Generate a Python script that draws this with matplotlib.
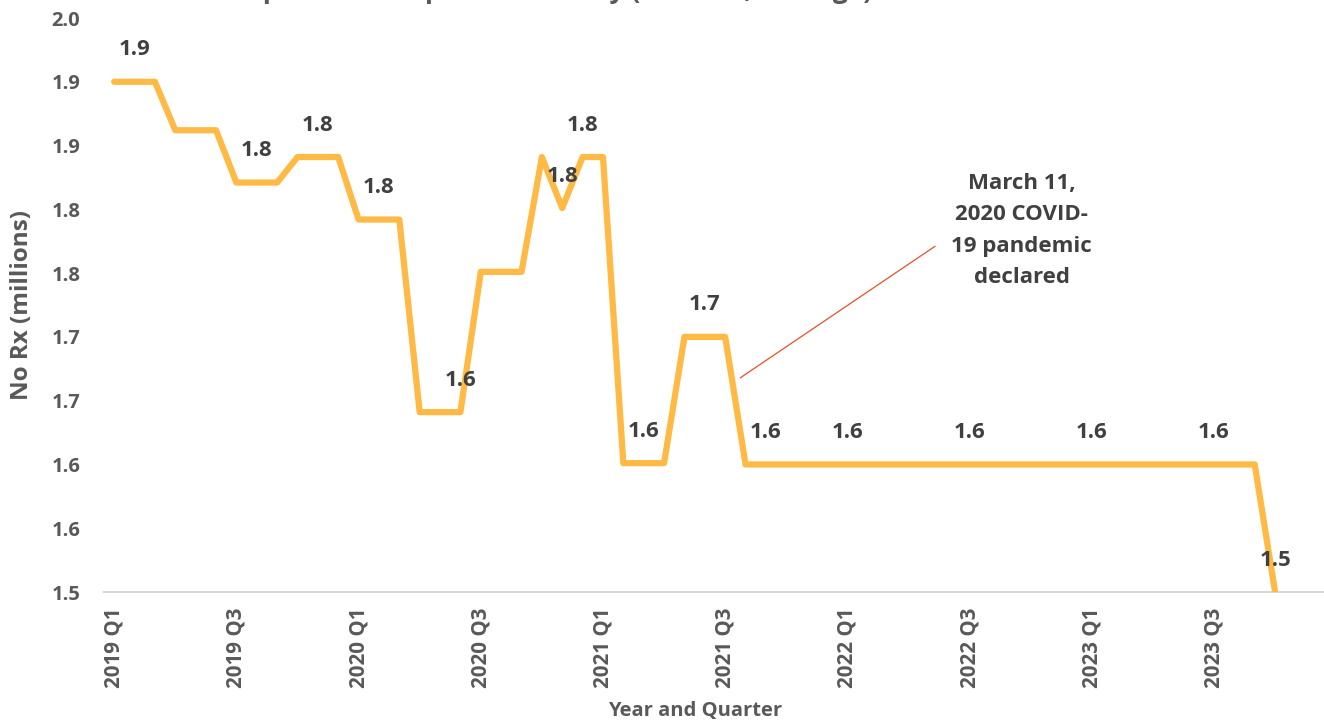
import matplotlib
matplotlib.use("Agg")
import matplotlib.pyplot as plt

# ---------------- data ----------------
n_months = 60  # 2019-01 .. 2023-12 (category slots on the axis)
values = [1.90, 1.90, 1.90,
          1.862, 1.862, 1.862,
          1.821, 1.821, 1.821,
          1.841, 1.841, 1.841,
          1.792, 1.792, 1.792,
          1.641, 1.641, 1.641,
          1.751, 1.751, 1.751,
          1.841, 1.801, 1.841, 1.841,
          1.601, 1.601, 1.601,
          1.700, 1.700, 1.700] + [1.600] * 26 + [1.500]
label_idx = [1, 7, 10, 13, 17, 22, 23, 26, 29, 32, 36, 42, 48, 54, 57]
x_tick_idx = [0, 6, 12, 18, 24, 30, 36, 42, 48, 54]
x_tick_labels = ["2019 Q1", "2019 Q3", "2020 Q1", "2020 Q3", "2021 Q1",
                 "2021 Q3", "2022 Q1", "2022 Q3", "2023 Q1", "2023 Q3"]
y_ticks = [1.50, 1.55, 1.60, 1.65, 1.70, 1.75, 1.80, 1.85, 1.90, 1.95]
y_tick_labels = ["1.5", "1.6", "1.6", "1.7", "1.7", "1.8", "1.8", "1.9", "1.9", "2.0"]
title = "Opioid Prescriptions Monthly (millions, average)"
annot_text = "March 11,\n2020 COVID-\n19 pandemic\ndeclared"
annot_line_x = [30.75, 40.3]
annot_line_y = [1.668, 1.771]

# ---------------- style ----------------
W, H = 1324, 721
DPI = 100
fig = plt.figure(figsize=(W / DPI, H / DPI), dpi=DPI)
fig.patch.set_facecolor("white")

FONT = ["Open Sans", "DejaVu Sans"]
TICK_C = "#595959"
LAB_C = "#404040"

left_px, right_px, top_px, bottom_px = 104, 1326, 18, 592
ax = fig.add_axes([left_px / W, 1 - bottom_px / H,
                   (right_px - left_px) / W, (bottom_px - top_px) / H])
ax.set_facecolor("white")

xs = list(range(len(values)))
ax.plot(xs, values, color="#FFBA45", lw=4.5, solid_joinstyle="round",
        solid_capstyle="round", zorder=3)

ax.set_xlim(-0.5, n_months - 0.5)
ax.set_ylim(1.5, 1.95)

ax.set_yticks(y_ticks)
ax.set_yticklabels(y_tick_labels, fontfamily=FONT, fontweight="bold",
                   fontsize=14.5, color=TICK_C)
ax.set_xticks(x_tick_idx)
ax.set_xticklabels(x_tick_labels, rotation=90, fontfamily=FONT,
                   fontweight="bold", fontsize=14.8, color=TICK_C)
ax.tick_params(axis="y", length=0, pad=17)
ax.tick_params(axis="x", length=0, pad=11)

for s in ["top", "right", "left"]:
    ax.spines[s].set_visible(False)
ax.spines["bottom"].set_color("#D9D9D9")
ax.spines["bottom"].set_linewidth(1.5)
ax.spines["bottom"].set_zorder(2)

# data labels
for i in label_idx:
    ax.annotate(f"{values[i]:.1f}", (i, values[i]), xytext=(0, 23),
                textcoords="offset points", ha="center", va="center",
                fontfamily=FONT, fontweight="bold", fontsize=16,
                color=LAB_C, zorder=4, annotation_clip=False)

# annotation
ax.plot(annot_line_x, annot_line_y, color="#E8502A", lw=0.9, zorder=2)
ax.text(44.55, 1.7835, annot_text, ha="center", va="center",
        multialignment="center", fontfamily=FONT, fontweight="bold",
        fontsize=16, color="#404040", linespacing=1.65)

# axis titles
fig.text(22 / W, 1 - 305 / H, "No Rx (millions)", rotation=90,
         ha="center", va="center", fontfamily=FONT, fontweight="bold",
         fontsize=17.5, color=TICK_C)
fig.text(695 / W, 1 - 711 / H, "Year and Quarter", ha="center",
         va="center", fontfamily=FONT, fontweight="bold", fontsize=14.5,
         color=TICK_C)

# chart title (cut off at the top edge, as in the reference)
fig.text(242 / W, 1 + 2 / H, title, ha="left", va="baseline",
         fontfamily=FONT, fontweight="bold", fontsize=19, color=TICK_C)

fig.savefig("out.png", dpi=DPI, facecolor="white")
